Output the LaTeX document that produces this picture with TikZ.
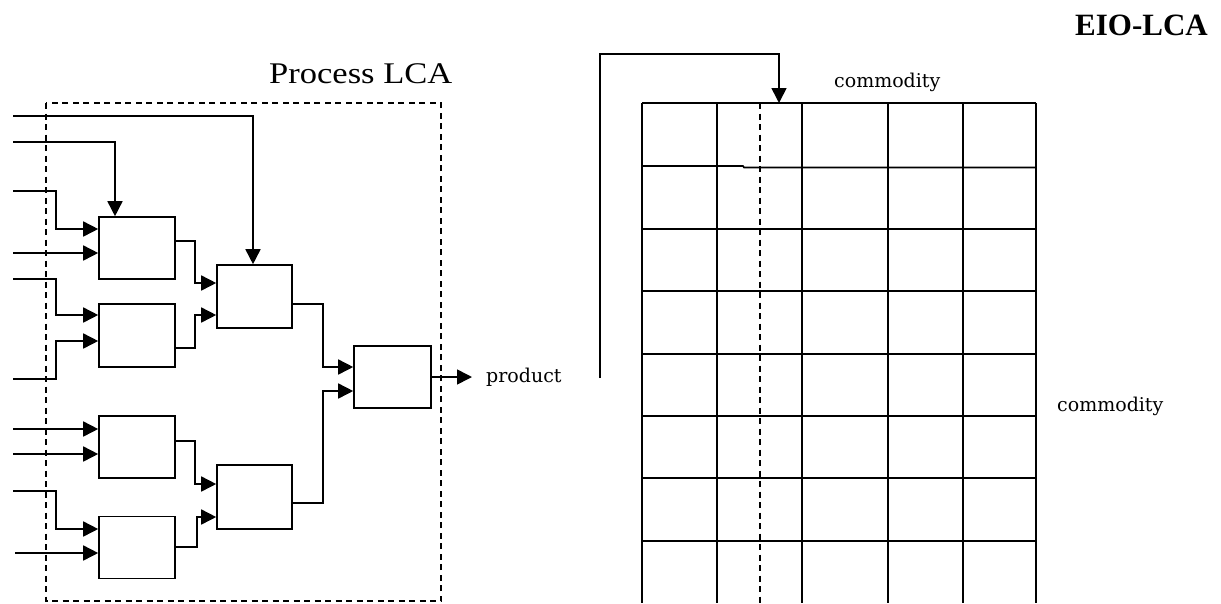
\documentclass[tikz,border=0pt]{standalone}
\usepackage{fontspec}
\setmainfont{Liberation Serif}
\newfontfamily\labfont{DejaVu Serif}
\usetikzlibrary{arrows.meta}
\tikzset{
  pbox/.style={draw, line width=1.6pt, minimum width=76pt, minimum height=62pt, inner sep=0pt},
  conn/.style={line width=1.6pt},
  arr/.style={conn, -{Triangle[length=15pt,width=15pt]}},
  gridline/.style={line width=1.6pt},
  dashline/.style={line width=1.5pt, dash pattern=on 6pt off 4.5pt},
  lab/.style={font=\labfont\fontsize{19}{22}\selectfont, inner sep=0pt, anchor=base west},
}
\begin{document}
\begin{tikzpicture}[x=1pt, y=-1pt]
\useasboundingbox (0,0) rectangle (1221,603);

% titles
\node[anchor=base west, inner sep=0pt, font=\fontsize{31}{36}\selectfont\bfseries] (eio) at (1075,35) {EIO-LCA};
\node[anchor=base west, inner sep=0pt, font=\fontsize{30}{36}\selectfont, xscale=1.15] (plca) at (269,83) {Process LCA};

% dashed boundary
\draw[dashline] (46,103) rectangle (441,601);

% process boxes
\node[pbox] (A) at (137,248) {};
\node[pbox, minimum height=63pt] (B) at (137,335.5) {};
\node[pbox] (C) at (137,447) {};
\node[pbox] (D) at (137,547.5) {};
\node[pbox, minimum width=75pt, minimum height=63pt] (M1) at (254.5,296.5) {};
\node[pbox, minimum width=75pt, minimum height=64pt] (M2) at (254.5,497) {};
\node[pbox, minimum width=77pt] (F) at (392.5,377) {};

% inputs
\coordinate (i1) at (13,116);
\coordinate (i2) at (13,142);
\coordinate (i3) at (13,191);
\coordinate (i4) at (13,253);
\coordinate (i5) at (13,279);
\coordinate (i6) at (13,379);
\coordinate (i7) at (13,429);
\coordinate (i8) at (13,454);
\coordinate (i9) at (13,491);
\coordinate (i10) at (15,553);

\draw[arr] (i1) -| ([xshift=-1.5pt]M1.north);
\draw[arr] (i2) -| ([xshift=-22pt]A.north);
\draw[arr] (i3) -- ++(43,0) |- ([yshift=19pt]A.west);
\draw[arr] (i4) -- (i4 -| A.west);
\draw[arr] (i5) -- ++(43,0) |- ([yshift=20.5pt]B.west);
\draw[arr] (i6) -- ++(43,0) |- ([yshift=-5.5pt]B.west);
\draw[arr] (i7) -- (i7 -| C.west);
\draw[arr] (i8) -- (i8 -| C.west);
\draw[arr] (i9) -- ++(43,0) |- ([yshift=18.5pt]D.west);
\draw[arr] (i10) -- (i10 -| D.west);

% internal flows
\draw[arr] ([yshift=7pt]A.east) -- ++(19,0) |- ([yshift=13.5pt]M1.west);
\draw[arr] ([yshift=-12.5pt]B.east) -- ++(19,0) |- ([yshift=-18.5pt]M1.west);
\draw[arr] ([yshift=6pt]C.east) -- ++(19,0) |- ([yshift=13pt]M2.west);
\draw[arr] ([yshift=0.5pt]D.east) -- ++(21,0) |- ([yshift=-20pt]M2.west);
\draw[arr] ([yshift=-7.5pt]M1.east) -- ++(30,0) |- ([yshift=10pt]F.west);
\draw[arr] ([yshift=-6pt]M2.east) -- ++(30,0) |- ([yshift=-14pt]F.west);

% product
\coordinate (out) at (472,377);
\draw[arr] (F.east) -- (out);
\node[lab] (prod) at (486,382) {product};

% EIO grid
\foreach \x in {642,717,802,888,963,1036} {
  \draw[gridline] (\x,103) -- (\x,603);
}
\draw[gridline] (642,103) -- (1036,103);
\draw[gridline] (642,166) -- (743,166) -- (744,167.5) -- (1036,167.5);
\foreach \y in {229,291,354,416,478,541} {
  \draw[gridline] (642,\y) -- (1036,\y);
}
\draw[dashline] (760,103) -- (760,603);

% feedback arrow
\coordinate (fb0) at (600,378);
\coordinate (fbtop) at (600,54);
\coordinate (fbin) at (779,103);
\draw[arr] (fb0) -- (fbtop) -| (fbin);

% commodity labels
\node[lab] (ctop) at (834,87) {commodity};
\node[lab] (cright) at (1057,411) {commodity};
\end{tikzpicture}
\end{document}
